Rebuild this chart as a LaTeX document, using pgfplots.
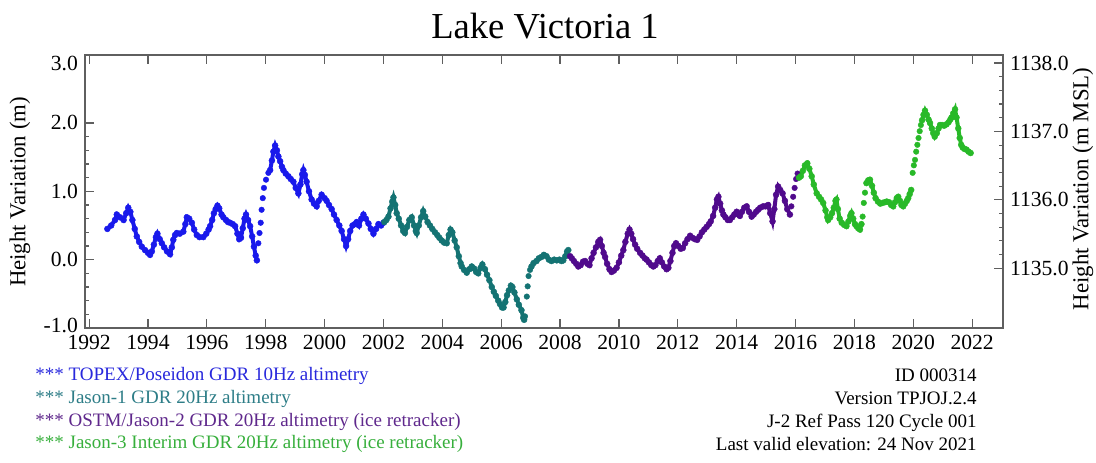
\documentclass[border=0pt]{standalone}
\usepackage{fontspec}
\setmainfont{Liberation Serif}
\usepackage{pgfplots}
\pgfplotsset{compat=1.18}
\definecolor{cBlue}{RGB}{25,25,235}
\definecolor{cTeal}{RGB}{20,115,115}
\definecolor{cPurple}{RGB}{80,10,140}
\definecolor{cGreen}{RGB}{40,185,40}
\definecolor{tBlue}{RGB}{40,40,220}
\definecolor{tTeal}{RGB}{45,125,135}
\definecolor{tPurple}{RGB}{95,40,140}
\definecolor{tGreen}{RGB}{55,175,60}
\definecolor{axgray}{RGB}{95,95,95}
\pgfplotsset{
  common/.style={
    at={(42.5pt,67pt)}, anchor=south west,
    scale only axis, width=459pt, height=136.7pt,
    xmin=1991.86, xmax=2023.05,
    /pgf/number format/assume math mode=true,
    tick label style={font=\fontsize{10.8}{12}\selectfont, text=black},
    major tick length=4.5pt, minor tick length=2.2pt,
    every tick/.style={axgray, line width=0.6pt},
    axis line style={axgray, line width=1pt},
  },
  dense/.style={line width=2.0pt, mark=*, mark size=1.5pt, mark options={line width=0.2pt}},
  sparse/.style={only marks, mark=*, mark size=1.4pt, mark options={line width=0.2pt}},
}
\begin{document}
\begin{tikzpicture}[x=1pt,y=1pt]
\useasboundingbox (0,0) rectangle (548,231);
\begin{axis}[common,
  ymin=-1, ymax=3,
  xtick={1992,1994,...,2022}, minor x tick num=1,
  xticklabel style={/pgf/number format/1000 sep={}},
  ytick={-1,0,1,2}, minor y tick num=4,
  yticklabels={\raisebox{2.2pt}{-1.0},0.0,1.0,2.0},
  extra y ticks={3},
  extra y tick labels={3.0},
  extra y tick style={yticklabel style={yshift=-4.5pt}},
  ytick pos=left,
  unbounded coords=jump,
]
% TOPEX/Poseidon
\addplot[cBlue, dense] table {
1992.62 0.45
1992.75 0.50
1992.88 0.58
1992.94 0.66
1993.05 0.62
1993.17 0.58
1993.26 0.68
1993.33 0.76
1993.40 0.70
1993.47 0.58
1993.55 0.45
1993.62 0.34
1993.70 0.26
1993.79 0.19
1993.90 0.14
1994.00 0.10
1994.07 0.07
1994.13 0.12
1994.20 0.22
1994.27 0.33
1994.32 0.38
1994.40 0.30
1994.47 0.24
1994.55 0.18
1994.65 0.12
1994.75 0.08
1994.81 0.18
1994.86 0.29
1994.92 0.36
1994.98 0.39
1995.08 0.38
1995.20 0.41
1995.27 0.52
1995.32 0.62
1995.40 0.60
1995.49 0.54
1995.57 0.44
1995.66 0.36
1995.75 0.33
1995.88 0.33
1995.98 0.38
1996.06 0.44
1996.11 0.49
1996.18 0.58
1996.24 0.68
1996.30 0.74
1996.36 0.79
1996.42 0.75
1996.50 0.66
1996.56 0.62
1996.65 0.58
1996.72 0.55
1996.79 0.54
1996.88 0.52
1996.96 0.49
1997.04 0.38
1997.10 0.30
1997.16 0.32
1997.22 0.46
1997.28 0.60
1997.33 0.66
1997.40 0.58
1997.47 0.49
1997.54 0.34
1997.60 0.19
1997.66 0.06
1997.70 -0.01
1997.72 nan
1998.15 1.31
1998.21 1.45
1998.26 1.58
1998.32 1.67
1998.38 1.60
1998.43 1.51
1998.49 1.44
1998.55 1.36
1998.60 1.31
1998.68 1.26
1998.77 1.22
1998.85 1.18
1998.94 1.14
1999.02 1.05
1999.11 0.97
1999.18 1.10
1999.24 1.25
1999.28 1.31
1999.33 1.24
1999.39 1.14
1999.47 1.00
1999.56 0.88
1999.64 0.82
1999.73 0.78
1999.80 0.86
1999.90 0.95
2000.00 0.90
2000.07 0.86
2000.15 0.80
2000.24 0.74
2000.32 0.66
2000.41 0.58
2000.50 0.50
2000.58 0.42
2000.66 0.30
2000.73 0.20
2000.80 0.30
2000.87 0.42
2000.95 0.50
2001.03 0.52
2001.09 0.55
2001.17 0.50
2001.25 0.60
2001.32 0.66
2001.40 0.60
2001.49 0.53
2001.57 0.45
2001.66 0.38
2001.75 0.45
2001.83 0.52
2001.92 0.50
2002.00 0.54
};
\addplot[cBlue, sparse] table {
1997.75 0.24
1997.79 0.39
1997.83 0.54
1997.86 0.73
1997.90 0.90
1997.94 1.05
1998.01 1.17
1998.09 1.27
};
% Jason-1
\addplot[cTeal, dense] table {
2002.03 0.55
2002.10 0.58
2002.17 0.63
2002.24 0.75
2002.30 0.85
2002.34 0.91
2002.40 0.80
2002.45 0.68
2002.52 0.60
2002.60 0.50
2002.67 0.42
2002.73 0.39
2002.80 0.48
2002.88 0.58
2002.96 0.62
2003.04 0.50
2003.10 0.42
2003.13 0.39
2003.20 0.50
2003.28 0.62
2003.35 0.71
2003.42 0.63
2003.50 0.55
2003.58 0.50
2003.66 0.45
2003.75 0.40
2003.83 0.36
2003.90 0.32
2003.98 0.28
2004.06 0.25
2004.15 0.24
2004.22 0.36
2004.28 0.44
2004.34 0.40
2004.42 0.28
2004.49 0.18
2004.56 0.05
2004.62 -0.05
2004.66 -0.10
2004.74 -0.15
2004.83 -0.19
2004.92 -0.14
2005.00 -0.10
2005.08 -0.13
2005.15 -0.18
2005.22 -0.20
2005.30 -0.12
2005.36 -0.07
2005.45 -0.14
2005.52 -0.22
2005.60 -0.30
2005.68 -0.40
2005.75 -0.47
2005.82 -0.53
2005.90 -0.60
2005.96 -0.65
2006.03 -0.70
2006.08 -0.70
2006.14 -0.62
2006.20 -0.52
2006.26 -0.45
2006.33 -0.38
2006.38 -0.40
2006.45 -0.48
2006.53 -0.58
2006.60 -0.66
2006.69 -0.74
2006.75 -0.85
2006.78 -0.88
2006.80 nan
2007.03 -0.10
2007.10 -0.05
2007.20 -0.02
2007.28 0.02
2007.37 0.04
2007.45 0.07
2007.54 0.05
2007.62 0.00
2007.71 -0.02
2007.80 0.00
2007.89 -0.01
2007.98 0.00
2008.05 -0.02
2008.11 -0.01
2008.18 0.05
2008.24 0.12
2008.28 0.14
};
\addplot[cTeal, sparse] table {
2006.81 -0.83
2006.87 -0.54
2006.90 -0.39
2006.93 -0.24
2006.98 -0.15
};
% OSTM/Jason-2
\addplot[cPurple, dense] table {
2008.34 0.05
2008.40 0.02
2008.47 -0.02
2008.55 -0.06
2008.62 -0.10
2008.70 -0.08
2008.78 -0.03
2008.85 -0.02
2008.93 -0.06
2009.00 -0.08
2009.07 0.02
2009.14 0.10
2009.22 0.18
2009.30 0.26
2009.36 0.29
2009.42 0.20
2009.48 0.10
2009.53 0.04
2009.60 -0.06
2009.68 -0.14
2009.75 -0.18
2009.83 -0.16
2009.92 -0.12
2010.00 -0.04
2010.08 0.06
2010.15 0.14
2010.22 0.26
2010.30 0.38
2010.36 0.44
2010.42 0.38
2010.48 0.30
2010.55 0.22
2010.62 0.16
2010.72 0.10
2010.80 0.06
2010.88 0.02
2010.94 0.00
2011.02 -0.04
2011.10 -0.08
2011.17 -0.10
2011.24 -0.08
2011.32 -0.02
2011.39 0.02
2011.46 -0.04
2011.54 -0.10
2011.62 -0.14
2011.68 -0.12
2011.75 -0.02
2011.82 0.10
2011.88 0.20
2011.94 0.24
2012.02 0.20
2012.10 0.16
2012.17 0.17
2012.25 0.24
2012.33 0.30
2012.42 0.35
2012.50 0.32
2012.58 0.30
2012.66 0.29
2012.74 0.34
2012.82 0.40
2012.90 0.44
2012.98 0.48
2013.06 0.52
2013.12 0.56
2013.20 0.64
2013.27 0.76
2013.33 0.88
2013.38 0.92
2013.44 0.82
2013.50 0.72
2013.55 0.66
2013.62 0.62
2013.70 0.58
2013.77 0.58
2013.85 0.62
2013.92 0.66
2014.00 0.70
2014.06 0.66
2014.11 0.64
2014.18 0.70
2014.26 0.76
2014.34 0.78
2014.42 0.70
2014.51 0.63
2014.58 0.66
2014.66 0.70
2014.73 0.73
2014.80 0.76
2014.90 0.78
2014.98 0.78
2015.07 0.80
2015.14 0.68
2015.22 0.56
2015.28 0.74
2015.34 0.95
2015.41 1.07
2015.48 1.02
2015.56 0.97
2015.64 0.86
2015.72 0.74
2015.81 0.66
};
\addplot[cPurple, sparse] table {
2015.86 0.78
2015.92 0.92
2015.97 1.05
2016.02 1.18
2016.07 1.26
};
% Jason-3
\addplot[cGreen, dense] table {
2016.12 1.20
2016.18 1.22
2016.25 1.30
2016.32 1.38
2016.40 1.41
2016.47 1.33
2016.55 1.22
2016.62 1.10
2016.72 0.97
2016.80 0.92
2016.87 0.88
2016.94 0.83
2017.02 0.72
2017.08 0.62
2017.11 0.58
2017.18 0.62
2017.24 0.68
2017.30 0.76
2017.36 0.86
2017.39 0.88
2017.44 0.74
2017.50 0.60
2017.57 0.54
2017.65 0.51
2017.73 0.49
2017.80 0.56
2017.86 0.64
2017.90 0.68
2017.96 0.60
2018.02 0.52
2018.07 0.49
2018.13 0.46
2018.19 0.44
2018.24 0.52
2018.26 nan
2018.41 1.12
2018.47 1.16
2018.53 1.17
2018.60 1.08
2018.66 0.98
2018.72 0.90
2018.80 0.85
2018.88 0.82
2018.95 0.83
2019.03 0.84
2019.10 0.85
2019.18 0.84
2019.25 0.80
2019.32 0.78
2019.38 0.84
2019.44 0.90
2019.49 0.92
2019.55 0.86
2019.60 0.80
2019.66 0.78
2019.72 0.82
2019.78 0.86
2019.83 0.90
2019.88 0.96
2019.93 1.02
2019.95 nan
2020.30 2.04
2020.35 2.12
2020.40 2.18
2020.46 2.12
2020.52 2.05
2020.57 2.00
2020.63 1.92
2020.68 1.85
2020.73 1.80
2020.80 1.85
2020.86 1.92
2020.91 1.97
2020.98 1.97
2021.05 1.96
2021.13 1.98
2021.20 2.01
2021.26 2.05
2021.30 2.08
2021.36 2.14
2021.42 2.20
2021.47 2.08
2021.53 1.92
2021.58 1.78
2021.63 1.68
2021.68 1.64
2021.74 1.62
2021.81 1.61
2021.88 1.58
2021.95 1.56
};
\addplot[cGreen, sparse] table {
2018.28 0.63
2018.32 0.83
2018.36 0.98
2019.98 1.27
2020.02 1.38
2020.06 1.46
2020.10 1.58
2020.14 1.68
2020.18 1.78
2020.22 1.88
2020.26 1.97
};
\end{axis}
\begin{axis}[common,
  ymin=1134.124, ymax=1138.124,
  axis x line=none, axis y line*=right,
  ytick={1135,1136,1137,1138}, minor y tick num=4,
  yticklabel style={/pgf/number format/fixed, /pgf/number format/precision=1, /pgf/number format/fixed zerofill, /pgf/number format/1000 sep={}},
]
\addplot[draw=none] coordinates {(2000,1135)};
\end{axis}
% title and labels
\node[anchor=base, font=\fontsize{18.3}{20}\selectfont] at (272.5,212) {Lake Victoria 1};
\node[rotate=90, font=\fontsize{11.4}{13}\selectfont] at (10,135) {Height Variation (m)};
\node[rotate=90, font=\fontsize{11.4}{13}\selectfont] at (541.5,136.5) {Height Variation (m MSL)};
% source notes
\begin{scope}[every node/.style={font=\fontsize{9.5}{11}\selectfont, inner sep=0pt}]
\node[anchor=base west, text=tBlue] at (17.5,40.6) {*** TOPEX/Poseidon GDR 10Hz altimetry};
\node[anchor=base west, text=tTeal] at (17.5,29.3) {*** Jason-1 GDR 20Hz altimetry};
\node[anchor=base west, text=tPurple] at (17.5,18) {*** OSTM/Jason-2 GDR 20Hz altimetry (ice retracker)};
\node[anchor=base west, text=tGreen] at (17.5,6.6) {*** Jason-3 Interim GDR 20Hz altimetry (ice retracker)};
\node[anchor=base east] at (488.5,40.2) {ID 000314};
\node[anchor=base east] at (488.5,28.8) {Version TPJOJ.2.4};
\node[anchor=base east] at (488.5,17.2) {J-2 Ref Pass 120 Cycle 001};
\node[anchor=base east] at (488.5,5.6) {Last valid elevation: 24 Nov 2021};
\end{scope}
\end{tikzpicture}
\end{document}
